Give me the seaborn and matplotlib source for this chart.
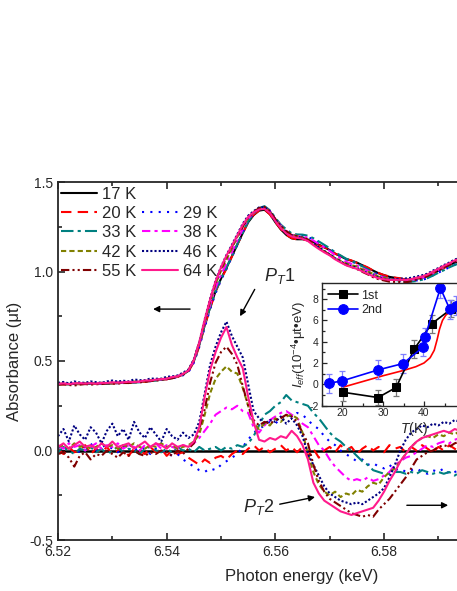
import numpy as np
import matplotlib
matplotlib.use("Agg")
import matplotlib.pyplot as plt
from matplotlib.lines import Line2D
from matplotlib.ticker import MultipleLocator, FixedLocator, FormatStrFormatter
import seaborn as sns

# ── Data ──────────────────────────────────────────────────────────────────────
# energy grid of the spectra (keV), 1 eV steps
E_START, E_STEP, N_PTS = 6.520, 0.001, 76
energy = np.round(E_START + E_STEP * np.arange(N_PTS), 3)

# absorbance of the 17 K reference spectrum
abs_17K = [
    0.370, 0.371, 0.370, 0.372, 0.371, 0.372, 0.373, 0.372, 0.374, 0.375,
    0.376, 0.377, 0.378, 0.380, 0.381, 0.383, 0.386, 0.389, 0.392, 0.396,
    0.400, 0.406, 0.413, 0.425, 0.445, 0.500, 0.590, 0.700, 0.800, 0.890,
    0.960, 1.020, 1.085, 1.150, 1.215, 1.275, 1.315, 1.340, 1.345, 1.320,
    1.275, 1.235, 1.205, 1.185, 1.180, 1.180, 1.175, 1.165, 1.150, 1.135,
    1.120, 1.100, 1.085, 1.070, 1.060, 1.050, 1.035, 1.020, 1.005, 0.990,
    0.980, 0.970, 0.965, 0.960, 0.955, 0.955, 0.960, 0.965, 0.975, 0.990,
    1.005, 1.020, 1.035, 1.050, 1.060, 1.070,
]

# difference spectra (T - 17 K), as plotted (x10)
diff_20K = [
    0.01, -0.02, 0.02, -0.01, 0.00, 0.03, -0.02, 0.01, -0.01, 0.02,
    -0.02, 0.00, 0.02, -0.03, 0.01, 0.00, -0.02, 0.02, -0.01, 0.01,
    -0.03, 0.00, -0.02, -0.01, -0.04, -0.06, -0.08, -0.05, -0.07, -0.04,
    -0.03, -0.05, -0.02, 0.00, -0.02, 0.01, 0.03, 0.00, 0.02, -0.01,
    0.01, 0.03, 0.00, 0.02, -0.01, 0.02, -0.03, 0.01, -0.04, 0.00,
    0.02, -0.01, 0.03, 0.00, 0.02, -0.02, 0.01, 0.03, 0.00, 0.02,
    -0.01, 0.03, 0.01, 0.02, -0.01, 0.02, 0.00, 0.03, 0.01, -0.01,
    0.02, 0.00, 0.03, 0.01, -0.01, 0.02,
]
diff_29K = [
    0.02, 0.00, 0.03, 0.01, -0.01, 0.02, 0.04, 0.00, 0.02, 0.03,
    0.01, -0.01, 0.02, 0.04, 0.00, 0.02, 0.01, -0.02, 0.01, 0.00,
    -0.01, -0.03, -0.02, -0.05, -0.07, -0.09, -0.11, -0.12, -0.10, -0.11,
    -0.08, -0.06, -0.04, -0.02, 0.02, 0.06, 0.10, 0.12, 0.14, 0.16,
    0.15, 0.18, 0.20, 0.19, 0.21, 0.20, 0.17, 0.14, 0.12, 0.08,
    0.05, 0.03, 0.00, -0.02, -0.04, -0.06, -0.05, -0.08, -0.07, -0.09,
    -0.10, -0.08, -0.11, -0.10, -0.12, -0.11, -0.10, -0.12, -0.13, -0.11,
    -0.12, -0.10, -0.13, -0.12, -0.11, -0.12,
]
diff_33K = [
    -0.01, 0.02, 0.00, -0.02, 0.01, 0.00, 0.02, -0.01, 0.01, -0.02,
    0.00, 0.02, -0.01, 0.01, 0.00, -0.02, 0.01, 0.02, 0.00, -0.01,
    0.01, -0.01, 0.02, 0.00, 0.01, -0.01, 0.02, 0.00, 0.01, 0.02,
    0.00, 0.02, 0.01, 0.03, 0.02, 0.04, 0.08, 0.14, 0.20, 0.22,
    0.25, 0.27, 0.31, 0.28, 0.27, 0.26, 0.25, 0.21, 0.18, 0.14,
    0.10, 0.07, 0.05, 0.02, 0.00, -0.03, -0.06, -0.08, -0.11, -0.12,
    -0.13, -0.13, -0.12, -0.12, -0.13, -0.12, -0.13, -0.11, -0.12, -0.13,
    -0.12, -0.13, -0.12, -0.14, -0.12, -0.13,
]
diff_38K = [
    0.03, 0.01, 0.04, 0.02, 0.03, 0.00, 0.02, 0.04, 0.01, 0.03,
    0.02, 0.04, 0.01, 0.03, 0.02, 0.00, 0.03, 0.02, 0.04, 0.01,
    0.03, 0.02, 0.01, 0.03, 0.02, 0.04, 0.07, 0.11, 0.15, 0.20,
    0.22, 0.24, 0.23, 0.25, 0.22, 0.21, 0.13, 0.10, 0.14, 0.17,
    0.19, 0.21, 0.22, 0.20, 0.18, 0.15, 0.13, 0.08, 0.03, 0.00,
    -0.05, -0.09, -0.12, -0.15, -0.17, -0.16, -0.17, -0.15, -0.17, -0.16,
    -0.14, -0.12, -0.08, -0.06, -0.04, -0.03, -0.01, 0.01, 0.03, 0.02,
    0.04, 0.05, 0.04, 0.06, 0.07, 0.06,
]
diff_42K = [
    0.02, 0.03, 0.01, 0.04, 0.02, 0.03, 0.01, 0.02, 0.04, 0.02,
    0.03, 0.01, 0.03, 0.02, 0.04, 0.02, 0.01, 0.03, 0.02, 0.04,
    0.02, 0.03, 0.01, 0.02, 0.03, 0.05, 0.09, 0.20, 0.32, 0.40,
    0.44, 0.47, 0.44, 0.43, 0.35, 0.25, 0.15, 0.12, 0.15, 0.14,
    0.18, 0.16, 0.19, 0.20, 0.18, 0.10, -0.02, -0.12, -0.19, -0.23,
    -0.25, -0.23, -0.26, -0.24, -0.25, -0.22, -0.23, -0.20, -0.18, -0.19,
    -0.15, -0.12, -0.10, -0.06, -0.02, 0.02, 0.05, 0.07, 0.08, 0.07,
    0.09, 0.08, 0.10, 0.09, 0.11, 0.10,
]
diff_46K = [
    0.08, 0.12, 0.05, 0.14, 0.09, 0.06, 0.13, 0.10, 0.04, 0.11,
    0.15, 0.08, 0.12, 0.06, 0.16, 0.10, 0.07, 0.13, 0.09, 0.05,
    0.12, 0.08, 0.06, 0.10, 0.07, 0.09, 0.16, 0.32, 0.48, 0.58,
    0.66, 0.72, 0.64, 0.58, 0.52, 0.37, 0.22, 0.18, 0.15, 0.17,
    0.16, 0.19, 0.15, 0.18, 0.14, 0.08, -0.02, -0.08, -0.14, -0.20,
    -0.24, -0.26, -0.28, -0.29, -0.30, -0.29, -0.30, -0.28, -0.26, -0.24,
    -0.21, -0.15, -0.08, 0.00, 0.06, 0.10, 0.12, 0.14, 0.13, 0.15,
    0.14, 0.16, 0.15, 0.17, 0.16, 0.15,
]
diff_55K = [
    -0.02, -0.01, -0.04, -0.09, -0.03, -0.01, -0.05, -0.02, -0.03, 0.00,
    -0.02, -0.04, -0.01, -0.03, 0.00, -0.02, -0.03, -0.01, -0.02, 0.00,
    -0.01, -0.03, 0.00, -0.02, 0.01, 0.04, 0.12, 0.23, 0.38, 0.49,
    0.55, 0.58, 0.54, 0.48, 0.36, 0.25, 0.17, 0.14, 0.16, 0.15,
    0.17, 0.18, 0.20, 0.19, 0.16, 0.10, 0.04, -0.08, -0.17, -0.23,
    -0.27, -0.29, -0.31, -0.33, -0.35, -0.36, -0.37, -0.36, -0.37, -0.33,
    -0.30, -0.27, -0.23, -0.19, -0.15, -0.10, -0.05, -0.03, -0.01, 0.00,
    0.02, 0.03, 0.02, 0.04, 0.05, 0.04,
]
diff_64K = [
    0.02, 0.04, 0.01, 0.03, 0.05, 0.02, 0.03, 0.01, 0.04, 0.02,
    0.05, 0.02, 0.03, 0.04, 0.01, 0.03, 0.05, 0.02, 0.04, 0.03,
    0.01, 0.04, 0.02, 0.03, 0.02, 0.05, 0.13, 0.30, 0.45, 0.55,
    0.63, 0.69, 0.59, 0.52, 0.46, 0.30, 0.16, 0.06, 0.05, 0.07,
    0.06, 0.08, 0.07, 0.11, 0.08, 0.03, -0.05, -0.18, -0.24, -0.28,
    -0.30, -0.32, -0.34, -0.35, -0.36, -0.35, -0.34, -0.33, -0.32, -0.28,
    -0.23, -0.17, -0.12, -0.06, -0.02, 0.02, 0.05, 0.07, 0.08, 0.09,
    0.10, 0.11, 0.10, 0.12, 0.11, 0.12,
]
DIFF_SCALE = 10  # difference spectra are shown x10

# inset: effective intensity vs temperature
T_1st = [20.2, 28.8, 33.2, 37.6, 41.9, 46.7]
I_1st = [-0.75, -1.25, -0.3, 3.3, 5.7, 7.1]
err_1st = [0.8, 0.7, 0.8, 0.85, 0.85, 0.8]
T_2nd = [16.8, 19.9, 28.8, 34.9, 39.8, 40.2, 44.0, 46.3, 47.8]
I_2nd = [0.1, 0.3, 1.35, 1.95, 3.5, 4.4, 9.05, 7.05, 7.4]
err_2nd = [0.9, 0.9, 0.9, 0.9, 0.8, 0.9, 0.9, 0.9, 0.9]
T_model = [20, 25, 30, 35, 38, 40, 41.5, 42.5, 43.2, 43.8, 44.5, 45.3, 46.4, 48, 50]
I_model = [-0.3, 0.25, 0.8, 1.3, 1.65, 2.0, 2.5, 3.2, 4.2, 5.2, 6.0, 6.5, 6.85, 7.0, 7.05]

E_TICKS = [6.52, 6.54, 6.56, 6.58]
T_TICKS = [20, 30, 40]

# ── Styles ────────────────────────────────────────────────────────────────────
STYLES = {
    "17 K": ("black",   "-"),
    "20 K": ("#FF0000", (0, (5, 3))),
    "29 K": ("#0000FF", (0, (1, 3))),
    "33 K": ("#008080", (0, (6, 2, 1.5, 2))),
    "38 K": ("#FF00FF", (0, (4, 2, 1.5, 2))),
    "42 K": ("#808000", (0, (2.5, 1.5))),
    "46 K": ("#000080", (0, (1, 1))),
    "55 K": ("#800000", (0, (4, 1.5, 1, 1.5, 1, 1.5))),
    "64 K": ("#FF1A8C", "-"),
}
diffs = {"20 K": diff_20K, "29 K": diff_29K, "33 K": diff_33K, "38 K": diff_38K,
         "42 K": diff_42K, "46 K": diff_46K, "55 K": diff_55K, "64 K": diff_64K}

sns.set_style("ticks")
plt.rcParams.update({
    "font.family": ["Liberation Sans", "DejaVu Sans"],
    "mathtext.fontset": "custom",
    "mathtext.rm": "Liberation Sans",
    "mathtext.it": "Liberation Sans:italic",
    "mathtext.sf": "Liberation Sans",
    "axes.unicode_minus": False,
    "xtick.direction": "in",
    "ytick.direction": "in",
})

fig = plt.figure(figsize=(4.57, 5.91), dpi=100)
W, H = 457, 591
# main axes extends beyond the right edge (the original is cropped there)
ax = fig.add_axes([58 / W, 51 / H, 434.7 / W, 358 / H])

LW = 1.5
ax.axhline(0, color="black", lw=1.8, zorder=1.9)  # 17 K difference
base = np.array(abs_17K)
sns.lineplot(x=energy, y=base, ax=ax, color="black", lw=LW, sort=False)
for name, d in diffs.items():
    c, ls = STYLES[name]
    sns.lineplot(x=energy, y=base + np.array(d) / DIFF_SCALE, ax=ax,
                 color=c, linestyle=ls, lw=LW, sort=False)
for name, d in diffs.items():
    c, ls = STYLES[name]
    sns.lineplot(x=energy, y=d, ax=ax, color=c, linestyle=ls, lw=LW, sort=False)

ax.set_xlim(6.52, 6.60)
ax.set_ylim(-0.5, 1.5)
ax.xaxis.set_major_locator(FixedLocator(E_TICKS))
ax.xaxis.set_minor_locator(MultipleLocator(0.01))
ax.yaxis.set_major_locator(MultipleLocator(0.5))
ax.yaxis.set_minor_locator(MultipleLocator(0.25))
ax.xaxis.set_major_formatter(FormatStrFormatter("%.2f"))
ax.yaxis.set_major_formatter(FormatStrFormatter("%.1f"))
ax.tick_params(which="both", top=True, right=True, labelsize=10, width=1.2)
ax.tick_params(which="major", length=5)
ax.tick_params(which="minor", length=3)
for sp in ax.spines.values():
    sp.set_linewidth(1.3)
ax.set_xlabel("Photon energy (keV)", fontsize=12)
ax.set_ylabel("Absorbance (\u03bct)", fontsize=12)
ax.xaxis.set_label_coords((302 - 58) / 434.7, (540 - 569) / 358)
ax.yaxis.set_label_coords((22 - 58) / 434.7, 0.5)

# legend: 17 K alone on first row, then two columns
order_c1 = ["17 K", "20 K", "33 K", "42 K", "55 K"]
order_c2 = ["29 K", "38 K", "46 K", "64 K"]
handles = [Line2D([], [], color=STYLES[n][0], linestyle=STYLES[n][1], lw=LW, label=n)
           for n in order_c1]
handles.append(Line2D([], [], color="none", label=" "))
handles += [Line2D([], [], color=STYLES[n][0], linestyle=STYLES[n][1], lw=LW, label=n)
            for n in order_c2]
ax.legend(handles=handles, ncol=2, loc="upper left", frameon=False,
          bbox_to_anchor=(0.0, 0.994), borderpad=0.15, borderaxespad=0.0,
          fontsize=12, handlelength=2.2, handletextpad=0.3,
          columnspacing=0.3, labelspacing=0.26)

# annotations
arw = dict(arrowstyle="-|>", color="black", lw=1.0, mutation_scale=9,
           shrinkA=0, shrinkB=0)
ax.annotate("", xy=(6.5375, 0.79), xytext=(6.5443, 0.79), arrowprops=arw)
ax.annotate("", xy=(6.5918, -0.306), xytext=(6.5842, -0.306), arrowprops=arw)
ax.annotate("", xy=(6.5535, 0.75), xytext=(6.5562, 0.90), arrowprops=arw)
ax.annotate("", xy=(6.5673, -0.26), xytext=(6.5608, -0.30), arrowprops=arw)
ax.text(6.5580, 0.945, r"$P_T$1", fontsize=13)
ax.text(6.5540, -0.345, r"$P_T$2", fontsize=13)

# ── Inset ─────────────────────────────────────────────────────────────────────
ins = fig.add_axes([321.5 / W, (H - 405.5) / H, 143.5 / W, 122.2 / H])
ins.set_facecolor("white")
sns.lineplot(x=T_model, y=I_model, ax=ins, color="red", lw=1.2, sort=False)
ins.errorbar(T_1st, I_1st, yerr=err_1st, fmt="none", ecolor="#777777",
             elinewidth=0.9, capsize=2.5, capthick=0.9)
ins.errorbar(T_2nd, I_2nd, yerr=err_2nd, fmt="none", ecolor="#7F7FFF",
             elinewidth=0.9, capsize=2.5, capthick=0.9)
sns.lineplot(x=T_1st, y=I_1st, ax=ins, color="black", lw=1.2, marker="s",
             markersize=6, markeredgecolor="black", sort=False, label="1st")
sns.lineplot(x=T_2nd, y=I_2nd, ax=ins, color="#0000FF", lw=1.2, marker="o",
             markersize=7, markeredgecolor="#0000FF", sort=False, label="2nd")
ins.set_xlim(15, 50)
ins.set_ylim(-2, 9.5)
ins.xaxis.set_major_locator(FixedLocator(T_TICKS))
ins.xaxis.set_minor_locator(MultipleLocator(5))
ins.yaxis.set_major_locator(MultipleLocator(2))
ins.yaxis.set_minor_locator(MultipleLocator(1))
ins.tick_params(which="both", labelsize=7.5, width=0.9, pad=2)
ins.tick_params(which="major", length=3.5)
ins.tick_params(which="minor", length=2)
for sp in ins.spines.values():
    sp.set_linewidth(1.0)
ins.set_xlabel(r"$T$(K)", fontsize=10, labelpad=0)
ins.set_ylabel("$I_{eff}$(10$^{-4}$\u2022\u03bct\u2022eV)", fontsize=9.5, labelpad=1)
ins.xaxis.set_label_coords((414 - 321.5) / 143.5, -0.12)
ins.legend(loc="upper left", frameon=False, fontsize=9, handlelength=2.4,
           handletextpad=0.3, labelspacing=0.2, borderpad=0.3,
           borderaxespad=0.2)

fig.savefig("out.png", dpi=100)
